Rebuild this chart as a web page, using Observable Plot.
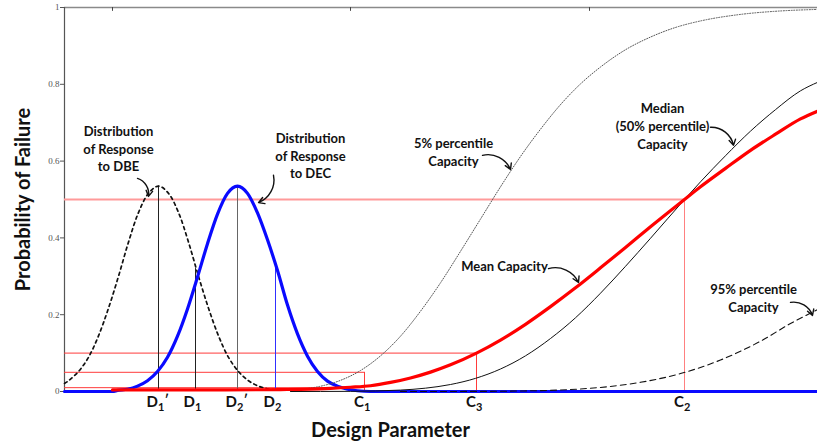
<!DOCTYPE html>
<html><head><meta charset="utf-8">
<script src="https://cdn.jsdelivr.net/npm/d3@7"></script>
<script src="https://cdn.jsdelivr.net/npm/@observablehq/plot@0.6"></script>
<style>body{margin:0;background:#fff} svg{display:block}</style>
</head><body><div id="chart"></div>
<script>
// ---- data (design parameter in arbitrary units, probability 0..1) ----
const tickLetters = ["D", "D", "D", "D", "C", "C", "C"];
const tickSubs    = ["1", "1", "2", "2", "1", "3", "2"];
const tickPrimes  = [true, false, true, false, false, false, false];
const tickPos     = [1.58, 1.95, 2.37, 2.75, 3.64, 4.76, 6.84];
const yTicks = [0, 0.2, 0.4, 0.6, 0.8, 1];
const topTicks = [1.12, 3.50, 5.89];

// response distribution to DBE (dotted)
const dbe = [[0.64,.021],[0.68,.028],[0.78,.052],[0.88,.089],[0.98,.145],[1.08,.217],[1.18,.300],[1.28,.389],[1.38,.466],[1.48,.516],[1.58,.535],[1.68,.516],[1.78,.466],[1.88,.389],[1.98,.300],[2.08,.217],[2.18,.145],[2.28,.089],[2.38,.052],[2.48,.028],[2.58,.014],[2.68,.0065],[2.75,.0036]];
// response distribution to DEC (blue)
const dec = [[0.64,0],[1.12,0],[1.17,.003],[1.27,.006],[1.37,.014],[1.47,.028],[1.57,.052],[1.67,.089],[1.77,.144],[1.87,.215],[1.97,.298],[2.07,.385],[2.17,.462],[2.27,.516],[2.37,.535],[2.47,.516],[2.57,.465],[2.67,.395],[2.77,.315],[2.87,.225],[2.97,.150],[3.07,.092],[3.17,.052],[3.27,.027],[3.37,.014],[3.47,.006],[3.57,.002],[3.7,0],[8.17,0]];
// fragility curves
const median = [[2.9,0],[3.5,.0004],[4.0,.0037],[4.25,.0087],[4.5,.0182],[4.75,.0342],[5.0,.0586],[5.25,.0929],[5.5,.138],[5.75,.192],[6.0,.256],[6.25,.326],[6.5,.399],[6.84,.5],[7.0,.546],[7.25,.614],[7.5,.678],[7.75,.734],[8.0,.783],[8.17,.805]];
const p05 = [[2.9,.003],[3.0,.0056],[3.2,.0137],[3.4,.029],[3.6,.0546],[3.8,.0928],[4.0,.144],[4.2,.209],[4.4,.283],[4.6,.365],[4.8,.449],[5.0,.533],[5.2,.612],[5.4,.683],[5.6,.747],[5.8,.801],[6.0,.845],[6.25,.890],[6.5,.923],[6.75,.948],[7.0,.965],[7.4,.982],[7.8,.991],[8.17,.995]];
const mean = [[1.12,.004],[2.0,.004],[2.8,.005],[3.1,.006],[3.3,.008],[3.5,.011],[3.7,.015],[3.9,.0236],[4.1,.0353],[4.3,.0505],[4.5,.0695],[4.76,.100],[5.0,.134],[5.25,.175],[5.5,.221],[5.75,.270],[6.0,.322],[6.25,.375],[6.5,.429],[6.84,.5],[7.0,.533],[7.25,.581],[7.5,.628],[7.75,.670],[8.0,.710],[8.17,.730]];
const p95 = [[4.0,0],[4.8,.0003],[5.2,.0013],[5.6,.004],[6.0,.0106],[6.4,.0239],[6.8,.0467],[7.2,.082],[7.6,.131],[7.9,.177],[8.17,.213]];

// reference levels
const probLevels = [0.5, 0.1, 0.05, 0.01];
const levelEnds  = [6.84, 4.76, 3.64, 3.64];
const dPeakTops  = [0.535, 0.32, 0.535, 0.33]; // D1', D1, D2', D2

// annotations
const notes = [
  {text: "Distribution\nof Response\nto DBE", x: 1.18, y: 0.634},
  {text: "Distribution\nof Response\nto DEC", x: 3.10, y: 0.615},
  {text: "5% percentile\nCapacity", x: 4.53, y: 0.625},
  {text: "Median\n(50% percentile)\nCapacity", x: 6.62, y: 0.693},
  {text: "Mean Capacity", x: 5.04, y: 0.328},
  {text: "95% percentile\nCapacity", x: 7.53, y: 0.245}
];
const arrows = [
  {x1: 1.37, y1: .555, x2: 1.48, y2: .508},
  {x1: 2.73, y1: .563, x2: 2.58, y2: .492},
  {x1: 4.82, y1: .615, x2: 5.10, y2: .578},
  {x1: 7.10, y1: .688, x2: 7.33, y2: .641},
  {x1: 5.48, y1: .320, x2: 5.78, y2: .284},
  {x1: 7.90, y1: .232, x2: 8.12, y2: .198}
];

// ---- build ----
const pts = a => a.map(([x, y]) => ({x, y}));
const xMin = 0.64, xMax = 8.17;
const levels = probLevels.map((y, i) => ({y, x2: levelEnds[i]}));
const ticks = tickLetters.map((t, i) => ({t, s: tickSubs[i], p: tickPrimes[i], x: tickPos[i]}));
const primed = ticks.filter(d => d.p);
const dLines = tickPos.slice(0, 4).map((x, i) => ({x, top: dPeakTops[i]}));
const cLines = levels.slice(0, 3).map(d => ({x: d.x2, top: d.y}));
const font = "Lato, 'Open Sans', sans-serif";

const chart = Plot.plot({
  width: 817, height: 446,
  marginLeft: 64, marginRight: 0, marginTop: 7, marginBottom: 55,
  x: {domain: [xMin, xMax], axis: null},
  y: {domain: [0, 1], axis: null},
  style: {fontFamily: font, background: "white", overflow: "visible"},
  marks: [
    // frame pieces
    Plot.ruleY([1], {stroke: "#8a8a8a", strokeWidth: 1.3}),
    Plot.ruleX(topTicks, {x: d => d, y1: 1, y2: 0.99, stroke: "#444"}),
    Plot.axisY({ticks: yTicks, tickFormat: d => String(d), tickSize: 4, tickPadding: 1,
      fontSize: 9, fontFamily: "'Liberation Serif', 'DejaVu Serif', serif", color: "#555"}),
    Plot.ruleX([xMin], {stroke: "#555", strokeWidth: 1.2}),
    // reference levels
    Plot.ruleY(levels.slice(1), {y: "y", x1: xMin, x2: "x2", stroke: "#ff3b3b", strokeWidth: 1}),
    Plot.ruleY(levels.slice(0, 1), {y: "y", x1: xMin, x2: "x2", stroke: "#ff9a9a", strokeWidth: 2}),
    Plot.ruleX(cLines.slice(1), {x: "x", y1: 0, y2: "top", stroke: "#ff3b3b", strokeWidth: 1}),
    Plot.ruleX(cLines.slice(0, 1), {x: "x", y1: 0, y2: "top", stroke: "#ff8080", strokeWidth: 1}),
    // D verticals
    Plot.ruleX(dLines.slice(0, 2), {x: "x", y1: 0, y2: "top", stroke: "#222", strokeWidth: 1}),
    Plot.ruleX(dLines.slice(2, 3), {x: "x", y1: 0, y2: "top", stroke: "#666", strokeWidth: 1}),
    Plot.ruleX(dLines.slice(3, 4), {x: "x", y1: 0, y2: "top", stroke: "#3030ff", strokeWidth: 1}),
    // curves
    Plot.line(pts(dbe), {x: "x", y: "y", stroke: "#111", strokeWidth: 1.7, strokeDasharray: "3,3.5", curve: "catmull-rom"}),
    Plot.line(pts(dec), {x: "x", y: "y", stroke: "#0a0aff", strokeWidth: 3.2, curve: "monotone-x"}),
    Plot.line(pts(median), {x: "x", y: "y", stroke: "#111", strokeWidth: 1, curve: "monotone-x"}),
    Plot.line(pts(p05), {x: "x", y: "y", stroke: "#555", strokeWidth: 1, strokeDasharray: "1,1.6", curve: "monotone-x"}),
    Plot.line(pts(p95), {x: "x", y: "y", stroke: "#111", strokeWidth: 1.1, strokeDasharray: "6,4", curve: "monotone-x"}),
    Plot.line(pts(mean), {x: "x", y: "y", stroke: "#ff0000", strokeWidth: 3.2, curve: "monotone-x"}),
    // annotations
    Plot.text(notes, {x: "x", y: "y", text: "text", fontSize: 13, fontWeight: "bold", lineHeight: 1.35, fill: "#111"}),
    Plot.arrow(arrows, {x1: "x1", y1: "y1", x2: "x2", y2: "y2", bend: 40, stroke: "#111", strokeWidth: 1.4, headLength: 7}),
    // x tick labels: letter, subscript, prime
    Plot.text(ticks, {x: "x", text: "t", frameAnchor: "bottom", textAnchor: "end", dx: -0.5, dy: 15.5, fontSize: 15, fontWeight: "bold", fill: "#111"}),
    Plot.text(ticks, {x: "x", text: "s", frameAnchor: "bottom", textAnchor: "start", dx: -0.5, dy: 19, fontSize: 11, fontWeight: "bold", fill: "#111"}),
    Plot.text(primed, {x: "x", text: () => "′", frameAnchor: "bottom", textAnchor: "start", dx: 6, dy: 12, fontSize: 13, fontWeight: "bold", fill: "#111"}),
    // axis titles
    Plot.text(["Design Parameter"], {x: 3.90, frameAnchor: "bottom", dy: 45, fontSize: 20, fontWeight: "bold", fill: "#111"}),
    Plot.text(["Probability of Failure"], {frameAnchor: "left", textAnchor: "middle", dx: -41, rotate: -90, fontSize: 20, fontWeight: "bold", fill: "#111"})
  ]
});
document.getElementById("chart").appendChild(chart);
</script>
</body></html>
